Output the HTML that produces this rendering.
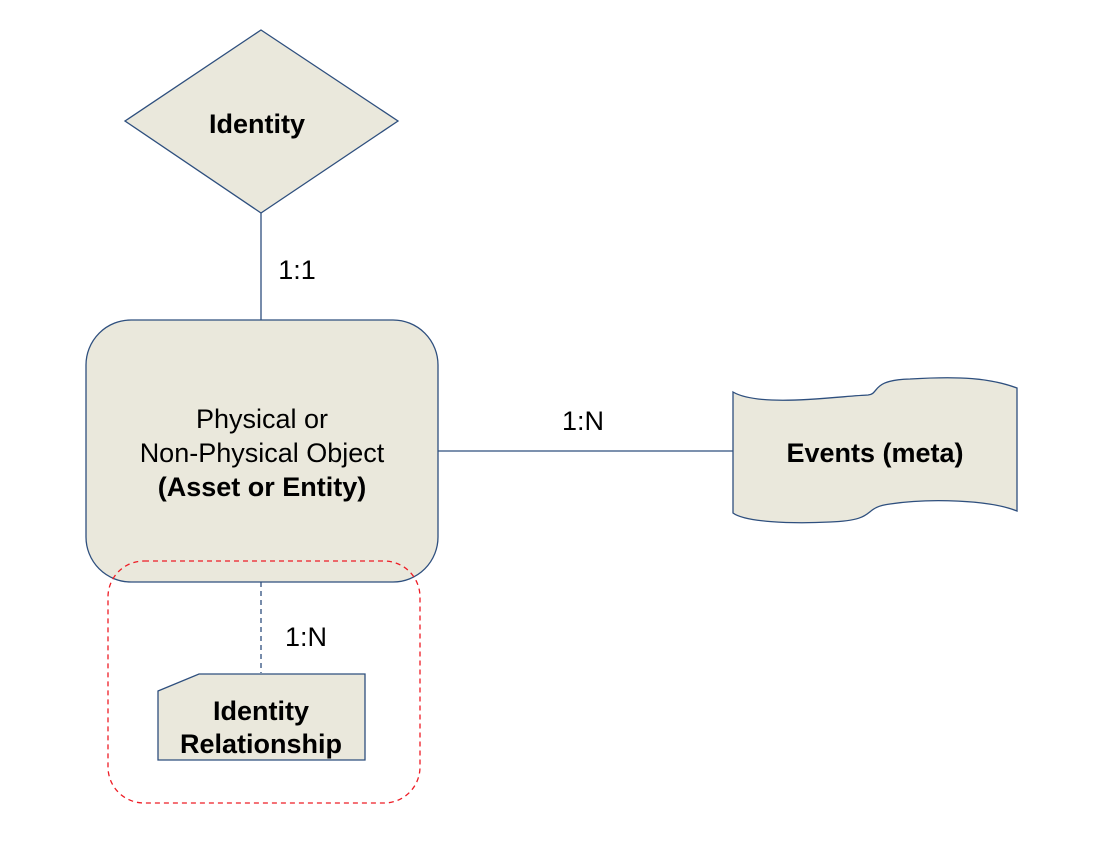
<!DOCTYPE html>
<html><head><style>html,body{margin:0;padding:0;background:#fff}svg{display:block}</style></head>
<body>
<svg width="1098" height="857" viewBox="0 0 1098 857" xmlns="http://www.w3.org/2000/svg" font-family="Liberation Sans, Arial, sans-serif">
<g stroke="#2E4F7E" stroke-width="1.3" fill="#EAE8DC">
<polygon points="261,30 398,121 261,213 125,121"/>
<line x1="261" y1="213" x2="261" y2="320" fill="none"/>
<rect x="86" y="320" width="352" height="262" rx="45" ry="45"/>
<line x1="438" y1="451" x2="733" y2="451" fill="none"/>
<path d="M733,392 C760,408 840,396 868,395 C880,394 870,380 910,379 C960,376 990,378 1017,388 L1017,511 C990,500 930,498 890,504 C860,508 880,520 830,522 C790,524 745,522 733,513 Z"/>
<line x1="261" y1="582" x2="261" y2="673" stroke-dasharray="5,4" fill="none"/>
<path d="M158,691 L199,674 L365,674 L365,760 L158,760 Z"/>
</g>
<rect x="108" y="561" width="312" height="242" rx="36" ry="36" fill="none" stroke="#EE1C25" stroke-width="1.3" stroke-dasharray="5,4"/>
<g font-size="27" fill="#000" text-anchor="middle">
<text x="257" y="133" font-weight="bold">Identity</text>
<text x="297" y="279">1:1</text>
<text x="262" y="428">Physical or</text>
<text x="262" y="462">Non-Physical Object</text>
<text x="262" y="496" font-weight="bold">(Asset or Entity)</text>
<text x="583" y="430">1:N</text>
<text x="875" y="462" font-weight="bold">Events (meta)</text>
<text x="306" y="646">1:N</text>
<text x="261" y="720" font-weight="bold">Identity</text>
<text x="261" y="753" font-weight="bold">Relationship</text>
</g>
</svg>
</body></html>
